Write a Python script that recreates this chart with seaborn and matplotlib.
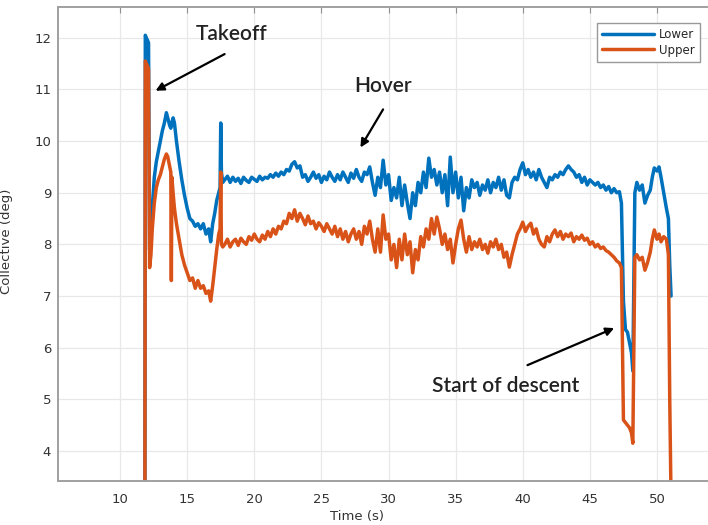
import pandas as pd
import seaborn as sns
import matplotlib.pyplot as plt

# time axis (s), shared by both blades
t_start = [11.85, 11.88, 11.95, 12.05, 12.12, 12.2, 12.3, 12.4, 12.55, 12.7,
           12.85, 13.0, 13.15, 13.3, 13.45, 13.55, 13.7, 13.78, 13.82, 13.86,
           13.95, 14.05, 14.2, 14.4, 14.6, 14.8, 15.0, 15.2, 15.4, 15.6,
           15.8, 16.0, 16.2, 16.4, 16.6, 16.75, 16.9, 17.05, 17.2, 17.35,
           17.45, 17.5, 17.55, 17.65]
t_hover = [17.8, 18.0, 18.2, 18.4, 18.6, 18.8, 19.0, 19.2, 19.4, 19.6, 19.8,
           20.0, 20.2, 20.4, 20.6, 20.8, 21.0, 21.2, 21.4, 21.6, 21.8, 22.0,
           22.2, 22.4, 22.6, 22.8, 23.0, 23.2, 23.4, 23.6, 23.8, 24.0,
           24.2, 24.4, 24.6, 24.8, 25.0, 25.2, 25.4, 25.6, 25.8, 26.0,
           26.2, 26.4, 26.6, 26.8, 27.0, 27.2, 27.4, 27.6, 27.8, 28.0,
           28.2, 28.4, 28.6, 28.8, 29.0, 29.2, 29.4, 29.6, 29.8, 30.0,
           30.2, 30.4, 30.6, 30.8, 31.0, 31.2, 31.4, 31.6, 31.8, 32.0,
           32.2, 32.4, 32.6, 32.8, 33.0, 33.2, 33.4, 33.6, 33.8, 34.0,
           34.2, 34.4, 34.6, 34.8, 35.0, 35.2, 35.4, 35.6, 35.8, 36.0,
           36.2, 36.4, 36.6, 36.8, 37.0, 37.2, 37.4, 37.6, 37.8, 38.0,
           38.2, 38.4, 38.6, 38.8, 39.0, 39.2, 39.4, 39.6, 39.8, 40.0,
           40.2, 40.4, 40.6, 40.8, 41.0, 41.2, 41.4, 41.6, 41.8, 42.0,
           42.2, 42.4, 42.6, 42.8, 43.0, 43.2, 43.4, 43.6, 43.8, 44.0,
           44.2, 44.4, 44.6, 44.8, 45.0, 45.2, 45.4, 45.6, 45.8, 46.0,
           46.2, 46.4, 46.6, 46.8, 47.0, 47.2]
t_end = [47.35, 47.5, 47.65, 47.8, 47.95, 48.1, 48.2, 48.35, 48.5, 48.7,
         48.9, 49.1, 49.3, 49.5, 49.65, 49.8, 50.0, 50.15, 50.3, 50.5,
         50.7, 50.85, 50.95, 51.05]

lower_start = [3.0, 12.05, 12.0, 11.95, 11.9, 7.9, 8.2, 8.7, 9.3, 9.6,
               9.8, 10.0, 10.2, 10.35, 10.55, 10.45, 10.3, 10.25, 10.3, 10.35,
               10.45, 10.35, 10.0, 9.6, 9.25, 8.95, 8.7, 8.5, 8.45, 8.35,
               8.4, 8.3, 8.4, 8.2, 8.3, 8.05, 8.4, 8.6, 8.85, 9.0,
               9.1, 10.35, 9.4, 9.2]
lower_hover = [9.25, 9.32, 9.2, 9.3, 9.22, 9.28, 9.18, 9.3, 9.24, 9.2, 9.3,
               9.26, 9.22, 9.32, 9.25, 9.3, 9.28, 9.35, 9.3, 9.38, 9.32, 9.4,
               9.35, 9.45, 9.42, 9.55, 9.6, 9.48, 9.52, 9.3, 9.35, 9.22,
               9.3, 9.4, 9.28, 9.35, 9.2, 9.32, 9.25, 9.4, 9.3, 9.22,
               9.35, 9.25, 9.4, 9.3, 9.2, 9.38, 9.28, 9.45, 9.3, 9.22,
               9.4, 9.35, 9.5, 9.2, 8.95, 9.3, 9.1, 9.63, 9.15, 9.35,
               8.85, 9.1, 8.9, 9.3, 8.75, 9.15, 8.8, 8.5, 9.0, 8.75,
               9.2, 9.0, 9.4, 9.1, 9.67, 9.3, 9.45, 9.15, 9.4, 9.0,
               9.35, 8.75, 9.69, 9.0, 9.4, 8.9, 9.3, 8.65, 9.1, 8.9,
               9.25, 9.1, 9.2, 8.95, 9.15, 9.05, 9.25, 9.0, 9.2, 9.1,
               9.3, 9.05, 9.25, 8.95, 8.9, 9.2, 9.3, 9.25, 9.45, 9.58,
               9.35, 9.45, 9.3, 9.4, 9.25, 9.45, 9.3, 9.2, 9.1, 9.3,
               9.25, 9.35, 9.3, 9.4, 9.35, 9.45, 9.52, 9.45, 9.4, 9.3,
               9.35, 9.2, 9.3, 9.15, 9.25, 9.2, 9.15, 9.2, 9.1, 9.15,
               9.05, 9.12, 9.0, 9.08, 9.0, 9.02]
lower_end = [8.8, 6.9, 6.35, 6.3, 6.1, 5.9, 5.55, 9.0, 9.2, 9.05,
             9.15, 8.8, 8.95, 9.05, 9.3, 9.48, 9.42, 9.5, 9.3, 9.0,
             8.7, 8.5, 7.6, 7.0]

upper_start = [3.0, 11.55, 11.5, 11.45, 11.4, 7.55, 7.8, 8.3, 8.8, 9.1,
               9.25, 9.35, 9.5, 9.65, 9.75, 9.7, 9.5, 9.4, 7.3, 9.3,
               9.0, 8.7, 8.4, 8.1, 7.8, 7.6, 7.45, 7.3, 7.35, 7.15,
               7.3, 7.15, 7.2, 7.05, 7.1, 6.9, 7.2, 7.55, 7.9, 8.2,
               8.3, 9.4, 8.0, 7.95]
upper_hover = [8.0, 8.1, 7.95, 8.05, 8.1, 7.98, 8.12, 8.05, 8.0, 8.15, 8.08,
               8.2, 8.1, 8.05, 8.18, 8.1, 8.25, 8.15, 8.3, 8.2, 8.35, 8.3,
               8.45, 8.4, 8.6, 8.5, 8.67, 8.45, 8.6, 8.5, 8.38, 8.55,
               8.4, 8.45, 8.3, 8.42, 8.35, 8.25, 8.4, 8.3, 8.2, 8.35,
               8.15, 8.3, 8.1, 8.25, 8.05, 8.2, 8.3, 8.1, 8.25, 8.0,
               8.35, 8.2, 8.45, 8.1, 7.85, 8.3, 7.85, 8.57, 8.1, 8.2,
               7.7, 8.0, 7.55, 8.1, 7.7, 8.2, 7.8, 8.05, 7.45, 7.9,
               7.7, 8.15, 7.95, 8.3, 8.1, 8.5, 8.2, 8.53, 8.3, 8.0,
               8.2, 7.9, 8.1, 7.64, 8.0, 8.3, 8.47, 8.1, 7.85, 8.15,
               7.9, 8.05, 7.95, 8.1, 7.9, 8.0, 7.83, 8.05, 7.95, 8.1,
               7.9, 8.0, 7.75, 7.85, 7.56, 7.8, 8.0, 8.2, 8.3, 8.43,
               8.25, 8.35, 8.41, 8.2, 8.3, 8.1, 8.0, 7.95, 8.15, 8.05,
               8.2, 8.28, 8.15, 8.25, 8.1, 8.2, 8.15, 8.22, 8.05, 8.15,
               8.1, 8.18, 8.08, 8.12, 8.0, 8.05, 7.95, 8.0, 7.92, 7.95,
               7.88, 7.85, 7.8, 7.75, 7.68, 7.64]
upper_end = [7.55, 4.6, 4.55, 4.5, 4.45, 4.35, 4.15, 7.75, 7.8, 7.7,
             7.75, 7.5, 7.65, 7.85, 8.1, 8.28, 8.1, 8.2, 8.05, 8.15,
             8.1, 7.8, 5.0, 3.0]

x_ticks = [10, 15, 20, 25, 30, 35, 40, 45, 50]
y_ticks = [4, 5, 6, 7, 8, 9, 10, 11, 12]

time = t_start + t_hover + t_end
df = pd.concat([
    pd.DataFrame({"time": time, "deg": lower_start + lower_hover + lower_end, "blade": "Lower"}),
    pd.DataFrame({"time": time, "deg": upper_start + upper_hover + upper_end, "blade": "Upper"}),
])

sns.set_style("whitegrid")
plt.rcParams["font.family"] = ["DejaVu Sans"]

fig = plt.figure(figsize=(7.08, 5.25), dpi=100)
ax = fig.add_axes([0.082, 0.084, 0.918, 0.903])

sns.lineplot(data=df, x="time", y="deg", hue="blade", estimator=None,
             palette={"Lower": "#0072BD", "Upper": "#D95319"},
             linewidth=2.5, ax=ax)

ax.set_xlim(5.38, 53.8)
ax.set_ylim(3.42, 12.6)
ax.set_xticks(x_ticks)
ax.set_yticks(y_ticks)
ax.grid(True, color="#e8e8e8", linewidth=0.9)
for side in ["left", "bottom", "top"]:
    ax.spines[side].set_visible(True)
    ax.spines[side].set_color("#a0a0a0")
    ax.spines[side].set_linewidth(1.4)
ax.spines["right"].set_visible(False)
ax.tick_params(axis="both", direction="in", length=4, width=0.8, color="#909090",
               labelsize=9.5, labelcolor="#333333", top=True)
ax.tick_params(axis="x", pad=9)
ax.tick_params(axis="y", pad=5)

ax.set_xlabel("Time (s)", fontsize=9.5, color="#333333")
ax.set_ylabel("Collective (deg)", fontsize=9.5, color="#333333")
ax.xaxis.set_label_coords(0.46, -0.062)
ax.yaxis.set_label_coords(-0.069, 0.506)

ax.legend(loc="upper right", bbox_to_anchor=(706 / 708, 1 - 17 / 525),
          bbox_transform=fig.transFigure, fontsize=8.5, frameon=True,
          fancybox=False, edgecolor="#999999", framealpha=1,
          handlelength=4.4, handletextpad=0.4, borderpad=0.45,
          labelspacing=0.2, title=None)

note_style = dict(fontsize=15, color="#222222", family=["Lato", "DejaVu Sans"],
                  fontweight="semibold", ha="center", va="center")
arrow = dict(arrowstyle="-|>", color="black", lw=1.6, mutation_scale=12)
ax.annotate("", xy=(12.46, 10.95), xytext=(17.97, 11.71), arrowprops=arrow)
ax.text(18.3, 12.07, "Takeoff", **note_style)
ax.annotate("", xy=(27.8, 9.83), xytext=(29.7, 10.66), arrowprops=arrow)
ax.text(29.6, 11.07, "Hover", **note_style)
ax.annotate("", xy=(47.0, 6.4), xytext=(40.16, 5.64), arrowprops=arrow)
ax.text(38.74, 5.26, "Start of descent", **note_style)

plt.savefig("out.png", dpi=100)
